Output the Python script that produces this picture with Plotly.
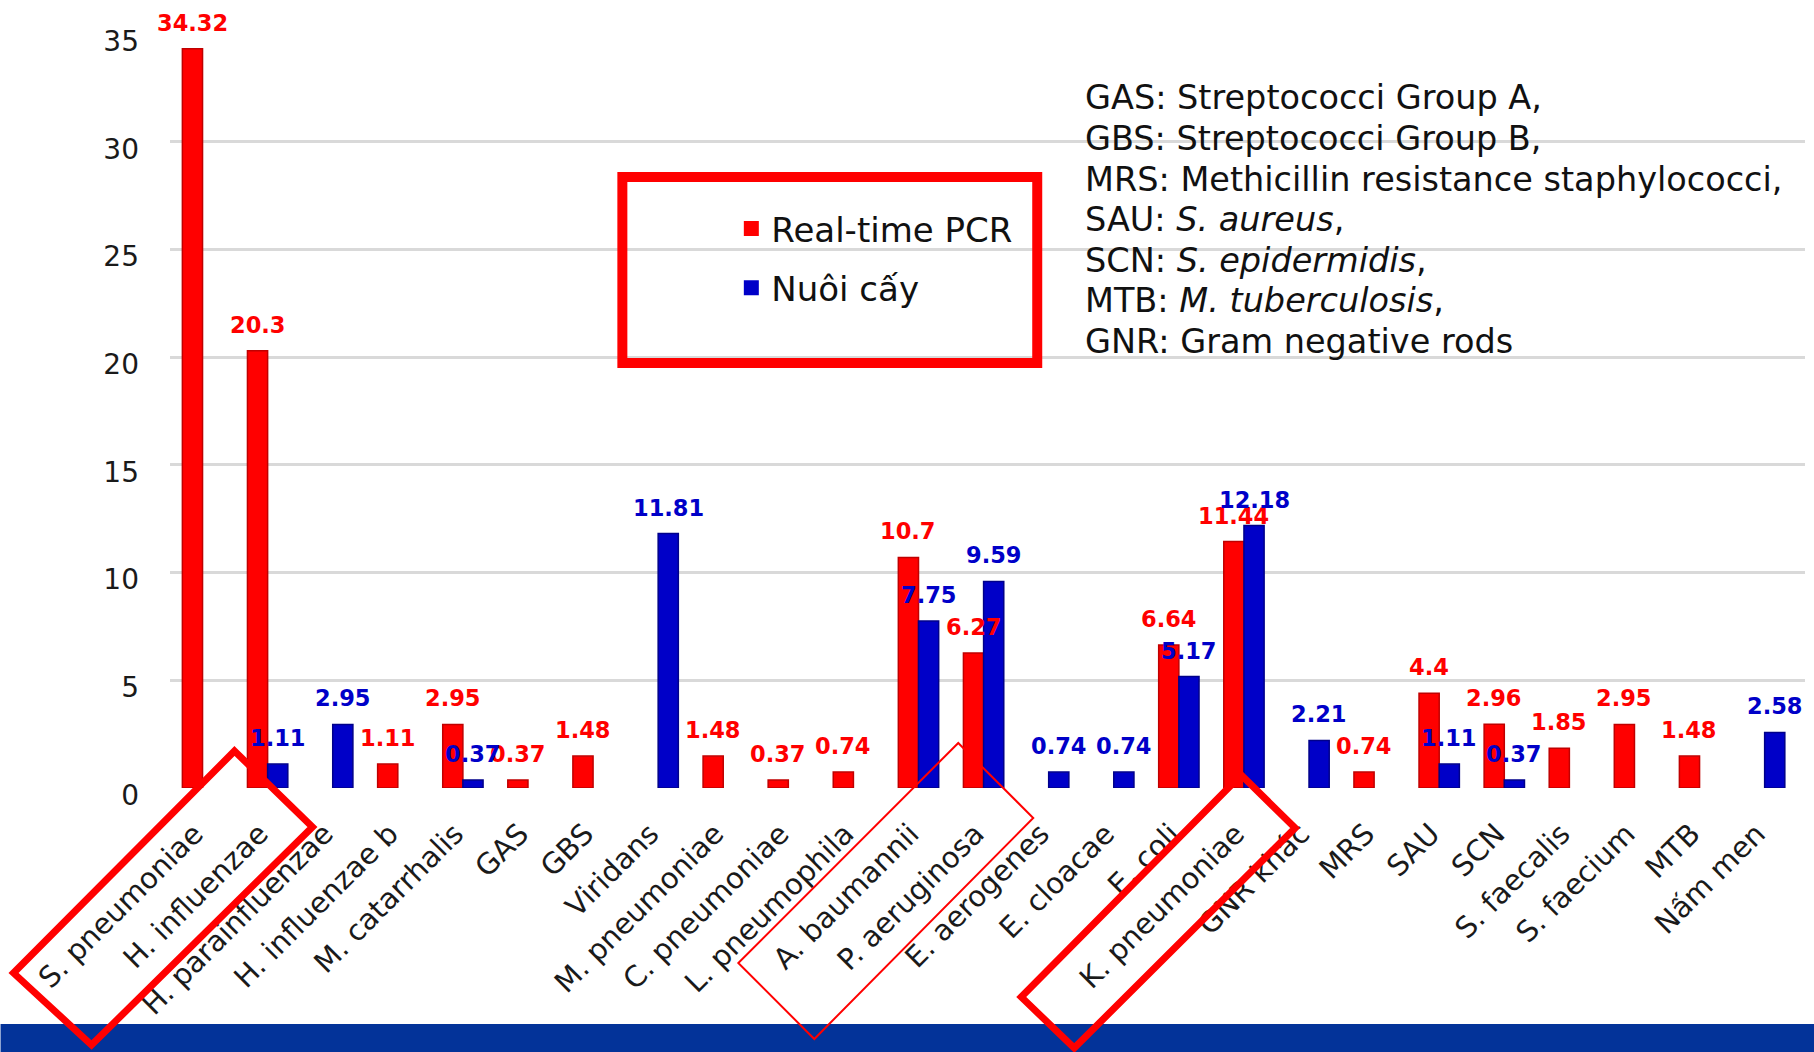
import plotly.graph_objects as go

categories = ["S. pneumoniae", "H. influenzae", "H. parainfluenzae", "H. influenzae b",
              "M. catarrhalis", "GAS", "GBS", "Viridans", "M. pneumoniae", "C. pneumoniae",
              "L. pneumophila", "A. baumannii", "P. aeruginosa", "E. aerogenes", "E. cloacae",
              "E. coli", "K. pneumoniae", "GNR khác", "MRS", "SAU", "SCN", "S. faecalis",
              "S. faecium", "MTB", "Nấm men"]
pcr = [34.32, 20.3, None, 1.11, 2.95, 0.37, 1.48, None, 1.48, 0.37, 0.74, 10.7, 6.27,
       None, None, 6.64, 11.44, None, 0.74, 4.4, 2.96, 1.85, 2.95, 1.48, None]
culture = [None, 1.11, 2.95, None, 0.37, None, None, 11.81, None, None, None, 7.75, 9.59,
           0.74, 0.74, 5.17, 12.18, 2.21, None, 1.11, 0.37, None, None, None, 2.58]
series_names = ["Real-time PCR", "Nuôi cấy"]
y_ticks = [0, 5, 10, 15, 20, 25, 30, 35]
note_lines = ["GAS: Streptococci Group A,",
              "GBS: Streptococci Group B,",
              "MRS: Methicillin resistance staphylococci,",
              "SAU: <i>S. aureus</i>,",
              "SCN: <i>S. epidermidis</i>,",
              "MTB: <i>M. tuberculosis</i>,",
              "GNR: Gram negative rods"]

RED = "#ff0000"
BLUE = "#0000c8"
RED_EDGE = "#c00000"
BLUE_EDGE = "#00008a"
FONT = "DejaVu Sans"

W, H = 1814, 1052
L, R, T, B = 169.5, 9, 34, 264
PW = W - L - R
PH = H - T - B
BARGAP = 0.38


def px2x(px):
    return (px - L) / PW


def py2y(py):
    return (H - B - py) / PH


fig = go.Figure()
fig.add_trace(go.Bar(x=categories, y=pcr, name=series_names[0], marker_color=RED,
                     marker_line=dict(color=RED_EDGE, width=1.5), showlegend=False))
fig.add_trace(go.Bar(x=categories, y=culture, name=series_names[1], marker_color=BLUE,
                     marker_line=dict(color=BLUE_EDGE, width=1.5), showlegend=False))
# legend entries (square keys)
for nm, col, grp in ((series_names[0], RED, "a"), (series_names[1], BLUE, "b")):
    fig.add_trace(go.Scatter(x=[None], y=[None], mode="markers", name=nm,
                             marker=dict(symbol="square", size=15, color=col),
                             legendgroup=grp, showlegend=True))

annotations = []
half = (1 - BARGAP) / 4
for vals, col, off in ((pcr, RED, -half), (culture, BLUE, half)):
    for i, v in enumerate(vals):
        if v is None:
            continue
        annotations.append(dict(x=i + off, y=v, xref="x", yref="y", text=str(v),
                                showarrow=False, yanchor="middle", xanchor="center",
                                yshift=26,
                                font=dict(family=FONT, size=22.5, color=col, weight="bold")))

for k, line in enumerate(note_lines):
    annotations.append(dict(x=px2x(1083), y=py2y(98 + k * 40.5), xref="paper", yref="paper",
                            text=line, showarrow=False, xanchor="left", yanchor="middle",
                            font=dict(family=FONT, size=33.5, color="#111111")))

shapes = []
# bottom band
shapes.append(dict(type="rect", xref="paper", yref="paper",
                   x0=px2x(0), x1=px2x(W), y0=py2y(1024), y1=py2y(H + 2),
                   fillcolor="#033399", line=dict(width=0), layer="above"))
# legend frame
shapes.append(dict(type="rect", xref="paper", yref="paper",
                   x0=px2x(622), x1=px2x(1037), y0=py2y(177), y1=py2y(363),
                   line=dict(color=RED, width=10), layer="above"))


def diamond(pts, width):
    path = "M " + " L ".join(f"{px2x(a):.5f},{py2y(b):.5f}" for a, b in pts) + " Z"
    return dict(type="path", xref="paper", yref="paper", path=path,
                line=dict(color=RED, width=width), layer="above")


shapes.append(diamond([(234, 751), (312, 827), (91, 1045), (13, 973)], 7))
shapes.append(diamond([(958, 743), (1033, 818), (814, 1039), (738, 963)], 2))
shapes.append(diamond([(1241, 775), (1295, 828), (1074, 1048), (1021, 997)], 7))

fig.update_layout(
    width=W, height=H,
    margin=dict(l=L, r=R, t=T, b=B, pad=0),
    paper_bgcolor="white", plot_bgcolor="white",
    barmode="group", bargap=BARGAP, bargroupgap=0,
    font=dict(family=FONT, color="#1a1a1a"),
    showlegend=True,
    legend=dict(x=px2x(731), y=py2y(200), xanchor="left", yanchor="top",
                xref="paper", yref="paper",
                bgcolor="rgba(0,0,0,0)", borderwidth=0,
                font=dict(family=FONT, size=34, color="#111111"),
                traceorder="grouped", tracegroupgap=12),
    xaxis=dict(type="category", range=[-0.5, 24.62], showgrid=False, zeroline=False,
               showline=False, ticks="", tickangle=-45,
               ticklabelstandoff=22, ticklabelshift=-8,
               tickfont=dict(family=FONT, size=29, color="#1a1a1a")),
    yaxis=dict(range=[0, 35], tickvals=y_ticks, showgrid=True, gridcolor="#d9d9d9",
               gridwidth=2.5, zeroline=False, showline=False, ticks="",
               ticklabelstandoff=30, ticklabelshift=7,
               tickfont=dict(family=FONT, size=28, color="#1a1a1a")),
    annotations=annotations,
    shapes=shapes,
)
for tr in fig.data:
    tr.cliponaxis = False

fig.write_html("out.html")
